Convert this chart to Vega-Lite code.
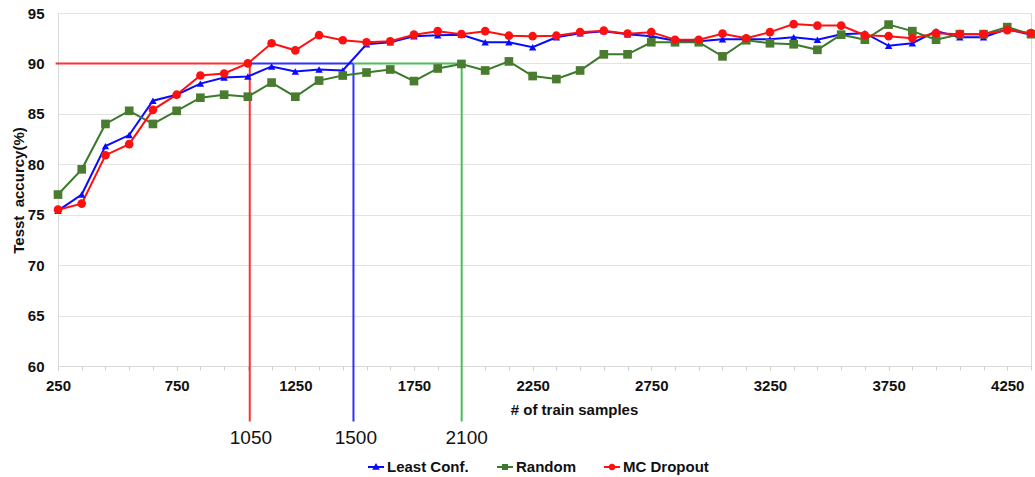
{
  "$schema": "https://vega.github.io/schema/vega-lite/v6.json",
  "width": 973,
  "height": 353,
  "autosize": "none",
  "padding": {"left": 58, "top": 13, "right": 4, "bottom": 111},
  "background": "white",
  "config": {
    "view": {"stroke": "#d9d9d9"},
    "font": "Liberation Sans"
  },
  "resolve": {"axis": {"x": "independent"}},
  "datasets": {
    "acc": [
      {"n":250,"method":"Least Conf.","acc":75.4},{"n":350,"method":"Least Conf.","acc":77.0},{"n":450,"method":"Least Conf.","acc":81.8},{"n":550,"method":"Least Conf.","acc":82.9},{"n":650,"method":"Least Conf.","acc":86.3},{"n":750,"method":"Least Conf.","acc":86.9},{"n":850,"method":"Least Conf.","acc":88.0},{"n":950,"method":"Least Conf.","acc":88.6},{"n":1050,"method":"Least Conf.","acc":88.7},{"n":1150,"method":"Least Conf.","acc":89.7},{"n":1250,"method":"Least Conf.","acc":89.2},{"n":1350,"method":"Least Conf.","acc":89.4},{"n":1450,"method":"Least Conf.","acc":89.3},{"n":1550,"method":"Least Conf.","acc":91.9},{"n":1650,"method":"Least Conf.","acc":92.1},{"n":1750,"method":"Least Conf.","acc":92.7},{"n":1850,"method":"Least Conf.","acc":92.8},{"n":1950,"method":"Least Conf.","acc":92.85},{"n":2050,"method":"Least Conf.","acc":92.1},{"n":2150,"method":"Least Conf.","acc":92.1},{"n":2250,"method":"Least Conf.","acc":91.6},{"n":2350,"method":"Least Conf.","acc":92.6},{"n":2450,"method":"Least Conf.","acc":93.0},{"n":2550,"method":"Least Conf.","acc":93.2},{"n":2650,"method":"Least Conf.","acc":92.9},{"n":2750,"method":"Least Conf.","acc":92.7},{"n":2850,"method":"Least Conf.","acc":92.25},{"n":2950,"method":"Least Conf.","acc":92.2},{"n":3050,"method":"Least Conf.","acc":92.4},{"n":3150,"method":"Least Conf.","acc":92.4},{"n":3250,"method":"Least Conf.","acc":92.4},{"n":3350,"method":"Least Conf.","acc":92.6},{"n":3450,"method":"Least Conf.","acc":92.35},{"n":3550,"method":"Least Conf.","acc":92.9},{"n":3650,"method":"Least Conf.","acc":93.0},{"n":3750,"method":"Least Conf.","acc":91.75},{"n":3850,"method":"Least Conf.","acc":92.0},{"n":3950,"method":"Least Conf.","acc":93.2},{"n":4050,"method":"Least Conf.","acc":92.6},{"n":4150,"method":"Least Conf.","acc":92.6},{"n":4250,"method":"Least Conf.","acc":93.4},{"n":4350,"method":"Least Conf.","acc":92.85},
      {"n":250,"method":"Random","acc":77.0},{"n":350,"method":"Random","acc":79.5},{"n":450,"method":"Random","acc":84.0},{"n":550,"method":"Random","acc":85.3},{"n":650,"method":"Random","acc":84.0},{"n":750,"method":"Random","acc":85.3},{"n":850,"method":"Random","acc":86.6},{"n":950,"method":"Random","acc":86.9},{"n":1050,"method":"Random","acc":86.7},{"n":1150,"method":"Random","acc":88.1},{"n":1250,"method":"Random","acc":86.7},{"n":1350,"method":"Random","acc":88.3},{"n":1450,"method":"Random","acc":88.8},{"n":1550,"method":"Random","acc":89.1},{"n":1650,"method":"Random","acc":89.4},{"n":1750,"method":"Random","acc":88.25},{"n":1850,"method":"Random","acc":89.5},{"n":1950,"method":"Random","acc":89.95},{"n":2050,"method":"Random","acc":89.3},{"n":2150,"method":"Random","acc":90.2},{"n":2250,"method":"Random","acc":88.75},{"n":2350,"method":"Random","acc":88.45},{"n":2450,"method":"Random","acc":89.3},{"n":2550,"method":"Random","acc":90.9},{"n":2650,"method":"Random","acc":90.9},{"n":2750,"method":"Random","acc":92.1},{"n":2850,"method":"Random","acc":92.1},{"n":2950,"method":"Random","acc":92.1},{"n":3050,"method":"Random","acc":90.7},{"n":3150,"method":"Random","acc":92.3},{"n":3250,"method":"Random","acc":92.0},{"n":3350,"method":"Random","acc":91.9},{"n":3450,"method":"Random","acc":91.35},{"n":3550,"method":"Random","acc":92.85},{"n":3650,"method":"Random","acc":92.35},{"n":3750,"method":"Random","acc":93.85},{"n":3850,"method":"Random","acc":93.2},{"n":3950,"method":"Random","acc":92.35},{"n":4050,"method":"Random","acc":92.9},{"n":4150,"method":"Random","acc":92.9},{"n":4250,"method":"Random","acc":93.6},{"n":4350,"method":"Random","acc":92.9},
      {"n":250,"method":"MC Dropout","acc":75.5},{"n":350,"method":"MC Dropout","acc":76.1},{"n":450,"method":"MC Dropout","acc":80.9},{"n":550,"method":"MC Dropout","acc":82.0},{"n":650,"method":"MC Dropout","acc":85.4},{"n":750,"method":"MC Dropout","acc":86.9},{"n":850,"method":"MC Dropout","acc":88.8},{"n":950,"method":"MC Dropout","acc":89.0},{"n":1050,"method":"MC Dropout","acc":90.0},{"n":1150,"method":"MC Dropout","acc":92.0},{"n":1250,"method":"MC Dropout","acc":91.3},{"n":1350,"method":"MC Dropout","acc":92.8},{"n":1450,"method":"MC Dropout","acc":92.3},{"n":1550,"method":"MC Dropout","acc":92.1},{"n":1650,"method":"MC Dropout","acc":92.2},{"n":1750,"method":"MC Dropout","acc":92.85},{"n":1850,"method":"MC Dropout","acc":93.2},{"n":1950,"method":"MC Dropout","acc":92.9},{"n":2050,"method":"MC Dropout","acc":93.2},{"n":2150,"method":"MC Dropout","acc":92.75},{"n":2250,"method":"MC Dropout","acc":92.7},{"n":2350,"method":"MC Dropout","acc":92.75},{"n":2450,"method":"MC Dropout","acc":93.1},{"n":2550,"method":"MC Dropout","acc":93.25},{"n":2650,"method":"MC Dropout","acc":92.95},{"n":2750,"method":"MC Dropout","acc":93.1},{"n":2850,"method":"MC Dropout","acc":92.35},{"n":2950,"method":"MC Dropout","acc":92.35},{"n":3050,"method":"MC Dropout","acc":92.95},{"n":3150,"method":"MC Dropout","acc":92.5},{"n":3250,"method":"MC Dropout","acc":93.1},{"n":3350,"method":"MC Dropout","acc":93.9},{"n":3450,"method":"MC Dropout","acc":93.75},{"n":3550,"method":"MC Dropout","acc":93.75},{"n":3650,"method":"MC Dropout","acc":92.8},{"n":3750,"method":"MC Dropout","acc":92.7},{"n":3850,"method":"MC Dropout","acc":92.5},{"n":3950,"method":"MC Dropout","acc":93.0},{"n":4050,"method":"MC Dropout","acc":92.9},{"n":4150,"method":"MC Dropout","acc":92.9},{"n":4250,"method":"MC Dropout","acc":93.3},{"n":4350,"method":"MC Dropout","acc":93.0}
    ],
    "guides": [
      {"method":"MC Dropout","n":240,"n2":1058,"acc":90,"acc2":90},
      {"method":"MC Dropout","n":1058,"n2":1058,"acc":90,"acc2":54.5},
      {"method":"Least Conf.","n":1058,"n2":1495,"acc":90,"acc2":90},
      {"method":"Least Conf.","n":1495,"n2":1495,"acc":90,"acc2":54.5},
      {"method":"Random","n":1495,"n2":1951,"acc":90,"acc2":90},
      {"method":"Random","n":1951,"n2":1951,"acc":90,"acc2":54.5}
    ],
    "notes": [
      {"label":"1050","n":1063,"acc":52.9},
      {"label":"1500","n":1505,"acc":52.9},
      {"label":"2100","n":1972,"acc":52.9}
    ]
  },
  "layer": [
    {
      "data": {"values": []},
      "mark": {"type": "point", "filled": true, "opacity": 1},
      "encoding": {
        "color": {
          "field": "method", "type": "nominal",
          "scale": {"domain": ["Least Conf.", "Random", "MC Dropout"], "range": ["#0a0aff", "#3a7a2c", "#ff1010"]},
          "legend": {"title": null, "orient": "none", "legendX": 310, "legendY": 446, "direction": "horizontal", "symbolSize": 256, "symbolStrokeWidth": 0, "labelFont": "Liberation Sans", "labelFontSize": 15, "labelFontWeight": "bold", "labelColor": "#111", "labelOffset": 3, "columnPadding": 28}
        },
        "shape": {
          "field": "method", "type": "nominal",
          "scale": {"domain": ["Least Conf.", "Random", "MC Dropout"], "range": [
            "M-1,-0.12H1V0.12H-1Z M0,-0.5L0.48,0.35H-0.48Z",
            "M-1,-0.12H1V0.12H-1Z M-0.38,-0.38H0.38V0.38H-0.38Z",
            "M-1,-0.12H1V0.12H-1Z M0.42,0A0.42,0.42,0,1,1,-0.42,0A0.42,0.42,0,1,1,0.42,0Z"
          ]},
          "legend": {"title": null, "orient": "none", "legendX": 310, "legendY": 446, "direction": "horizontal", "symbolSize": 256, "symbolStrokeWidth": 0, "labelFont": "Liberation Sans", "labelFontSize": 15, "labelFontWeight": "bold", "labelColor": "#111", "labelOffset": 3, "columnPadding": 28}
        }
      }
    },
    {
      "data": {"name": "guides"},
      "mark": {"type": "rule", "strokeWidth": 2, "clip": false},
      "encoding": {
        "x": {"field": "n", "type": "quantitative",
          "scale": {"domain": [250, 4350], "nice": false, "zero": false},
          "axis": {
            "orient": "bottom",
            "title": null, "labels": false, "grid": false, "domain": false,
            "values": [250,350,450,550,650,750,850,950,1050,1150,1250,1350,1450,1550,1650,1750,1850,1950,2050,2150,2250,2350,2450,2550,2650,2750,2850,2950,3050,3150,3250,3350,3450,3550,3650,3750,3850,3950,4050,4150,4250,4350],
            "tickSize": 4, "tickColor": "#d0d0d0"
          }
        },
        "x2": {"field": "n2"},
        "y": {"field": "acc", "type": "quantitative"},
        "y2": {"field": "acc2"},
        "stroke": {"field": "method", "type": "nominal", "legend": null,
          "scale": {"domain": ["Least Conf.", "Random", "MC Dropout"], "range": ["#2f2fff", "#4cbb5c", "#ff3030"]}}
      }
    },
    {
      "data": {"name": "acc"},
      "mark": {"type": "line", "strokeWidth": 2},
      "encoding": {
        "x": {
          "field": "n", "type": "quantitative",
          "scale": {"domain": [250, 4350], "nice": false, "zero": false},
          "axis": {
            "orient": "bottom",
            "title": "# of train samples",
            "values": [250, 750, 1250, 1750, 2250, 2750, 3250, 3750, 4250],
            "format": "d",
            "labelFlush": false, "labelOverlap": false,
            "grid": false, "tickSize": 4, "tickColor": "#d0d0d0", "domainColor": "#d9d9d9",
            "labelFont": "Liberation Sans", "labelFontSize": 15, "labelFontWeight": "bold", "labelColor": "#111",
            "labelPadding": 15, "labelBaseline": "middle",
            "titleFont": "Liberation Sans", "titleFontSize": 15, "titleFontWeight": "bold", "titleColor": "#111",
            "titleX": 516, "titleY": 43, "titleBaseline": "middle", "titleAlign": "center"
          }
        },
        "y": {
          "field": "acc", "type": "quantitative",
          "scale": {"domain": [60, 95], "nice": false, "zero": false},
          "axis": {
            "title": "Tesst \u00a0accurcy(%)",
            "values": [60, 65, 70, 75, 80, 85, 90, 95],
            "format": "d",
            "ticks": false, "grid": true, "gridColor": "#e3e3e3", "domainColor": "#d9d9d9",
            "labelFont": "Liberation Sans", "labelFontSize": 15, "labelFontWeight": "bold", "labelColor": "#111", "labelPadding": 14,
            "titleFont": "Liberation Sans", "titleFontSize": 15, "titleFontWeight": "bold", "titleColor": "#111",
            "titleX": -40, "titleY": 177, "titleAngle": -90, "titleBaseline": "middle", "titleAlign": "center"
          }
        },
        "color": {
          "field": "method", "type": "nominal", "legend": null,
          "scale": {"domain": ["Least Conf.", "Random", "MC Dropout"], "range": ["#0a0aff", "#3a7a2c", "#ff1010"]}
        }
      }
    },
    {
      "data": {"name": "acc"},
      "transform": [{"filter": "datum.method === 'Least Conf.'"}],
      "mark": {"type": "point", "shape": "triangle-up", "filled": true, "opacity": 1, "size": 55, "color": "#0a0aff"},
      "encoding": {
        "x": {"field": "n", "type": "quantitative", "axis": null},
        "y": {"field": "acc", "type": "quantitative"}
      }
    },
    {
      "data": {"name": "acc"},
      "transform": [{"filter": "datum.method === 'Random'"}],
      "mark": {"type": "point", "shape": "square", "filled": true, "opacity": 1, "size": 75, "color": "#4a7c2f"},
      "encoding": {
        "x": {"field": "n", "type": "quantitative", "axis": null},
        "y": {"field": "acc", "type": "quantitative"}
      }
    },
    {
      "data": {"name": "acc"},
      "transform": [{"filter": "datum.method === 'MC Dropout'"}],
      "mark": {"type": "point", "shape": "circle", "filled": true, "opacity": 1, "size": 75, "color": "#ff1010"},
      "encoding": {
        "x": {"field": "n", "type": "quantitative", "axis": null},
        "y": {"field": "acc", "type": "quantitative"}
      }
    },
    {
      "data": {"name": "notes"},
      "mark": {"type": "text", "font": "Liberation Sans", "fontSize": 19, "color": "#111", "align": "center", "baseline": "middle", "clip": false},
      "encoding": {
        "x": {"field": "n", "type": "quantitative", "axis": null},
        "y": {"field": "acc", "type": "quantitative"},
        "text": {"field": "label"}
      }
    }
  ]
}
